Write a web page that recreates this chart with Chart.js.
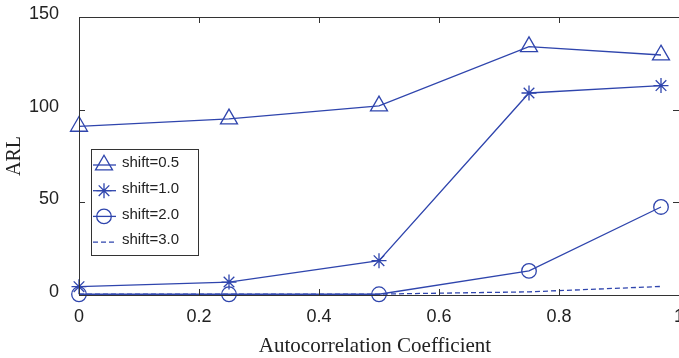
<!DOCTYPE html>
<html>
<head>
    <title>ARL vs Autocorrelation Coefficient</title>
    <script src="https://cdn.jsdelivr.net/npm/chart.js"></script>
    <style>
        html, body { margin: 0; padding: 0; background: #fff; }
        #wrap { width: 679px; height: 358px; position: relative; }
    </style>
</head>
<body>
<div id="wrap"><canvas id="arlChart"></canvas></div>
<script>
    // ===== DATA =====
    const rho = [0, 0.25, 0.5, 0.75, 0.97];
    const arlShift05 = [91, 95, 102, 134, 129.5];
    const arlShift10 = [4.5, 7, 18.5, 109, 113];
    const arlShift20 = [0.4, 0.4, 0.4, 13, 47.5];
    const arlShift30 = [0.4, 0.4, 0.5, 1.7, 4.6];
    const seriesNames = ['shift=0.5', 'shift=1.0', 'shift=2.0', 'shift=3.0'];
    const xTicks = [0, 0.2, 0.4, 0.6, 0.8, 1];
    const xTickLabels = ['0', '0.2', '0.4', '0.6', '0.8', '1'];
    const yTicks = [0, 50, 100, 150];
    const yTickLabels = ['0', '50', '100', '150'];
    const xTitle = 'Autocorrelation Coefficient';

    const blue = '#2f45ad';
    const axisColor = '#333';
    const markers = [
        { style: 'triangle', radius: 9.8 },
        { style: 'star', radius: 7.5 },
        { style: 'circle', radius: 7.3 },
        { style: false, radius: 0, dash: [5, 3] }
    ];

    const toPoints = arr => rho.map((x, i) => ({ x: x, y: arr[i] }));
    const seriesValues = [arlShift05, arlShift10, arlShift20, arlShift30];

    const datasets = seriesValues.map((vals, i) => ({
        label: seriesNames[i],
        data: toPoints(vals),
        borderColor: blue,
        backgroundColor: 'rgba(0,0,0,0)',
        borderWidth: 1.3,
        borderDash: markers[i].dash || [],
        pointStyle: markers[i].style,
        pointRadius: markers[i].radius,
        pointBorderWidth: 1.3,
        pointBorderColor: blue,
        pointBackgroundColor: 'rgba(0,0,0,0)',
        tension: 0,
        clip: false
    }));

    // own marker shapes for the legend samples
    function drawMarker(ctx, style, r, x, y) {
        ctx.beginPath();
        if (style === 'triangle') {
            for (let k = 0; k < 3; k++) {
                const a = k * 2 * Math.PI / 3;
                const px = x + Math.sin(a) * r, py = y - Math.cos(a) * r;
                if (k === 0) ctx.moveTo(px, py); else ctx.lineTo(px, py);
            }
            ctx.closePath();
        } else if (style === 'star') {
            const d = Math.cos(Math.PI / 4) * r;
            ctx.moveTo(x - r, y); ctx.lineTo(x + r, y);
            ctx.moveTo(x, y - r); ctx.lineTo(x, y + r);
            ctx.moveTo(x - d, y - d); ctx.lineTo(x + d, y + d);
            ctx.moveTo(x - d, y + d); ctx.lineTo(x + d, y - d);
        } else if (style === 'circle') {
            ctx.arc(x, y, r, 0, Math.PI * 2);
        }
        ctx.stroke();
    }

    const framePlugin = {
        id: 'frame',
        afterDraw(chart) {
            const { ctx, chartArea: a, scales } = chart;
            const tl = 6;
            ctx.save();
            ctx.strokeStyle = axisColor;
            ctx.lineWidth = 1;
            ctx.setLineDash([]);
            ctx.strokeRect(Math.round(a.left) + 0.5, Math.round(a.top) + 0.5,
                Math.round(a.right - a.left), Math.round(a.bottom - a.top));
            ctx.beginPath();
            xTicks.forEach(v => {
                const px = Math.round(scales.x.getPixelForValue(v)) + 0.5;
                ctx.moveTo(px, a.bottom); ctx.lineTo(px, a.bottom - tl);
                ctx.moveTo(px, a.top); ctx.lineTo(px, a.top + tl);
            });
            yTicks.forEach(v => {
                const py = Math.round(scales.y.getPixelForValue(v)) + 0.5;
                ctx.moveTo(a.left, py); ctx.lineTo(a.left + tl, py);
                ctx.moveTo(a.right, py); ctx.lineTo(a.right - tl, py);
            });
            ctx.stroke();

            // x axis title (a bit left of the box centre, like the original)
            ctx.fillStyle = '#222';
            ctx.font = '21px "Liberation Serif", "Times New Roman", serif';
            ctx.textAlign = 'center';
            ctx.textBaseline = 'alphabetic';
            ctx.fillText(xTitle, 375, 352);

            // legend box
            const bx = 91, by = 149, bw = 107, bh = 106;
            ctx.fillStyle = '#fff';
            ctx.fillRect(bx, by, bw, bh);
            ctx.strokeRect(bx + 0.5, by + 0.5, bw, bh);
            ctx.font = '15px "Liberation Sans", Arial, sans-serif';
            ctx.textBaseline = 'middle';
            ctx.textAlign = 'left';
            seriesNames.forEach((name, i) => {
                const ry = by + 14 + i * 25.7;
                ctx.strokeStyle = blue;
                ctx.lineWidth = 1.3;
                ctx.setLineDash(markers[i].dash || []);
                ctx.beginPath();
                ctx.moveTo(93, ry + 2); ctx.lineTo(116, ry + 2);
                ctx.stroke();
                ctx.setLineDash([]);
                if (markers[i].style) drawMarker(ctx, markers[i].style, markers[i].radius, 104, ry + 2);
                ctx.fillStyle = '#222';
                ctx.fillText(name, 122, ry);
            });
            ctx.restore();
        }
    };

    new Chart(document.getElementById('arlChart'), {
        type: 'line',
        data: { datasets: datasets },
        options: {
            responsive: true,
            maintainAspectRatio: false,
            animation: false,
            layout: { autoPadding: false, padding: { top: 17, right: -1, bottom: 0, left: 0 } },
            plugins: { legend: { display: false }, tooltip: { enabled: false } },
            scales: {
                x: {
                    type: 'linear',
                    min: 0, max: 1,
                    grid: { display: false },
                    border: { display: false },
                    afterBuildTicks: s => { s.ticks = xTicks.map(v => ({ value: v })); },
                    afterFit: s => { s.height = 63; s.paddingLeft = 0; s.paddingRight = 0; },
                    ticks: {
                        autoSkip: false, maxRotation: 0, padding: 3,
                        color: '#222',
                        font: { family: '"Liberation Sans", Arial, sans-serif', size: 18 },
                        callback: (v, i) => xTickLabels[i]
                    }
                },
                y: {
                    min: 0, max: 150,
                    grid: { display: false },
                    border: { display: false },
                    afterBuildTicks: s => { s.ticks = yTicks.map(v => ({ value: v })); },
                    afterFit: s => { s.width = 79; s.paddingTop = 0; s.paddingBottom = 0; },
                    ticks: {
                        padding: 12, labelOffset: -3,
                        color: '#222',
                        font: { family: '"Liberation Sans", Arial, sans-serif', size: 18 },
                        callback: (v, i) => yTickLabels[i]
                    },
                    title: {
                        display: true, text: 'ARL', color: '#222',
                        font: { family: '"Liberation Serif", "Times New Roman", serif', size: 20 },
                        padding: { top: 3, bottom: 0 }
                    }
                }
            }
        },
        plugins: [framePlugin]
    });
</script>
</body>
</html>
